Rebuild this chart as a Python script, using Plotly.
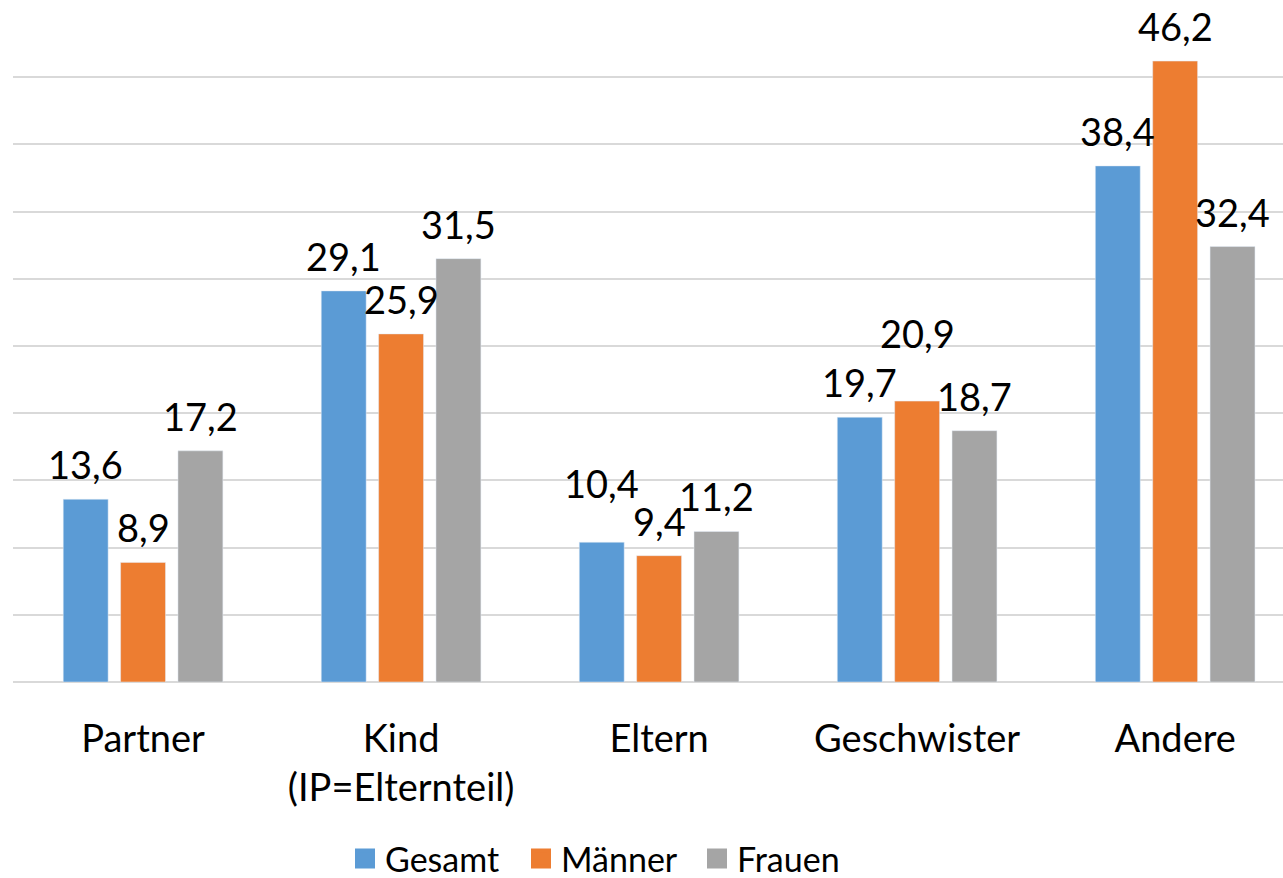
import plotly.graph_objects as go

categories = ["Partner", "Kind<br>(IP=Elternteil)", "Eltern", "Geschwister", "Andere"]
series_names = ["Gesamt", "Männer", "Frauen"]
gesamt = [13.6, 29.1, 10.4, 19.7, 38.4]
maenner = [8.9, 25.9, 9.4, 20.9, 46.2]
frauen = [17.2, 31.5, 11.2, 18.7, 32.4]
series_values = [gesamt, maenner, frauen]

# styles (not data)
colors = ["#5B9BD5", "#ED7D31", "#A5A5A5"]
group_shift = [-57.5, 0, 57.5]
base_lift = 10
label_nudge = [[0, 0, 24, 0, 0], [0, 0, 0, 33, 0], [0, 0, 0, 0, 0]]
FONT = "Lato"
FS = 38

fig = go.Figure()
for name, vals, col in zip(series_names, series_values, colors):
    fig.add_trace(go.Bar(x=categories, y=vals, name=name, marker_color=col,
                         showlegend=False, hoverinfo="x+y"))
for name, col in zip(series_names, colors):
    fig.add_trace(go.Scatter(x=[None], y=[None], mode="markers", name=name,
                             marker=dict(symbol="square", size=16, color=col,
                                         line=dict(color=col, width=4))))

annotations = []
for si, vals in enumerate(series_values):
    for ci, v in enumerate(vals):
        annotations.append(dict(
            x=categories[ci], y=v, xref="x", yref="y",
            text=f"{v:.1f}".replace(".", ","), showarrow=False,
            xanchor="center", yanchor="bottom",
            xshift=group_shift[si], yshift=base_lift + label_nudge[si][ci],
            font=dict(family=FONT, size=FS, color="#000000")))

fig.update_layout(
    width=1283, height=878,
    margin=dict(l=13, r=0, t=10, b=196, autoexpand=False),
    paper_bgcolor="white", plot_bgcolor="white",
    barmode="group", bargap=0.333, bargroupgap=0.217,
    font=dict(family=FONT, size=FS, color="#000000"),
    annotations=annotations,
    legend=dict(orientation="h", xref="container", yref="container",
                x=345 / 1283, xanchor="left", y=1 - 859 / 878, yanchor="middle",
                entrywidth=131, entrywidthmode="pixels",
                font=dict(family=FONT, size=34, color="#000000"),
                itemclick=False, bgcolor="rgba(0,0,0,0)"),
    xaxis=dict(range=[-0.504, 4.418], showgrid=False, showline=False, ticks="",
               ticklabelstandoff=31, automargin=False,
               tickfont=dict(family=FONT, size=FS, color="#000000"), fixedrange=True),
    yaxis=dict(range=[0, 50], dtick=5, showticklabels=False, showgrid=True,
               gridcolor="#D9D9D9", gridwidth=2, zeroline=True, zerolinecolor="#D9D9D9",
               zerolinewidth=2, showline=False, fixedrange=True, automargin=False),
)

fig.write_html("out.html", config={"displayModeBar": False},
               post_script="document.body.style.margin='0';document.body.style.overflow='hidden';")
